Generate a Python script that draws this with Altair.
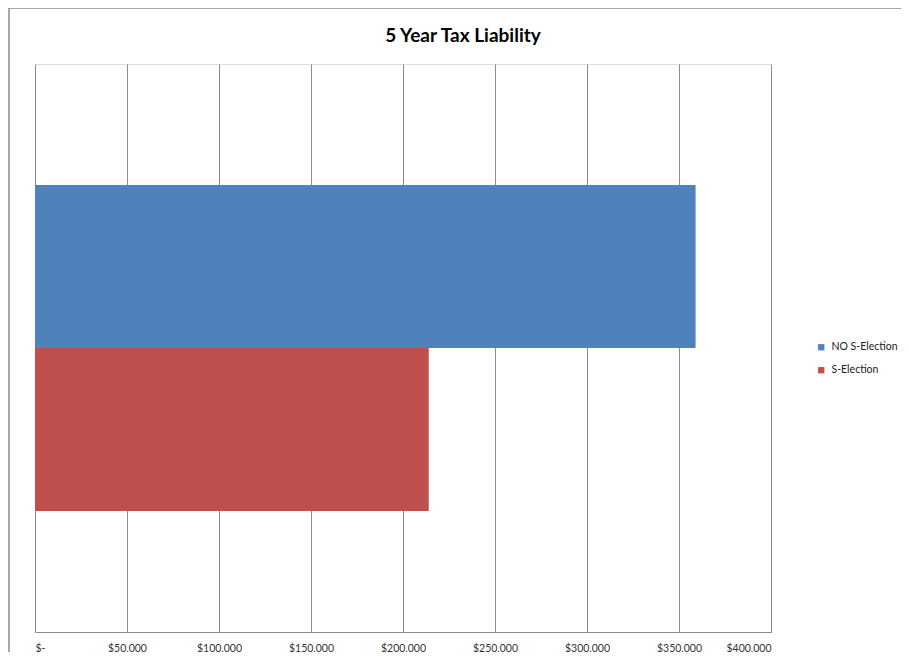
import altair as alt
import pandas as pd

title_text = ["5 Year Tax Liability"]
series = ["NO S-Election", "S-Election"]
values = [359000, 214000]
colors = ["#4F81BD", "#C0504D"]
tick_values = [0, 50000, 100000, 150000, 200000, 250000, 300000, 350000, 400000]

df = pd.DataFrame({"series": series, "value": values})
frame_df = pd.DataFrame({"k": [0]})
title_df = pd.DataFrame({"t": title_text})

FONT = "Lato"

bars = alt.Chart(df).mark_bar(clip=False).encode(
    x=alt.X(
        "value:Q",
        scale=alt.Scale(domain=[0, 400000], nice=False, zero=True),
        axis=alt.Axis(
            values=tick_values,
            title=None,
            grid=True,
            gridColor="#8c8c8c",
            gridWidth=1,
            gridOpacity=1,
            ticks=False,
            domain=True,
            domainColor="#8c8c8c",
            domainWidth=1,
            labelFont=FONT,
            labelFontSize=10.5,
            labelColor="#333333",
            labelPadding=11,
            labelExpr="datum.value == 0 ? '$-' : '$' + format(datum.value, ',')",
        ),
    ),
    y=alt.Y(
        "series:N",
        sort=series,
        scale=alt.Scale(paddingInner=0, paddingOuter=0.742),
        axis=None,
    ),
    color=alt.Color(
        "series:N",
        sort=series,
        scale=alt.Scale(domain=series, range=colors),
        legend=alt.Legend(
            title=None,
            orient="none",
            legendX=781,
            legendY=278,
            symbolType="square",
            symbolSize=40,
            symbolStrokeWidth=0,
            labelFont=FONT,
            labelFontSize=10.5,
            labelColor="#222222",
            labelOffset=5,
            rowPadding=12,
            padding=0,
        ),
    ),
)

frame_top = alt.Chart(frame_df).mark_rule(
    stroke="#8a8a8a", strokeWidth=1.5, clip=False
).encode(
    x=alt.value(-26),
    x2=alt.value(866),
    y=alt.value(-56),
)

frame_left = alt.Chart(frame_df).mark_rule(
    stroke="#8a8a8a", strokeWidth=1.5, clip=False
).encode(
    x=alt.value(-26),
    y=alt.value(-56),
    y2=alt.value(588),
)

title = alt.Chart(title_df).mark_text(
    font=FONT, fontSize=19, fontWeight="bold", color="#000000",
    align="center", baseline="alphabetic", clip=False
).encode(
    text="t:N",
    x=alt.value(428),
    y=alt.value(-22),
)

chart = alt.layer(frame_top, frame_left, bars, title).properties(
    width=736,
    height=568,
    autosize=alt.AutoSizeParams(type="none"),
    padding={"left": 27, "top": 56, "right": 130, "bottom": 20},
).configure_view(stroke=None).configure(background="white")

chart.save("out.html", embed_options={"renderer": "svg", "actions": False})
